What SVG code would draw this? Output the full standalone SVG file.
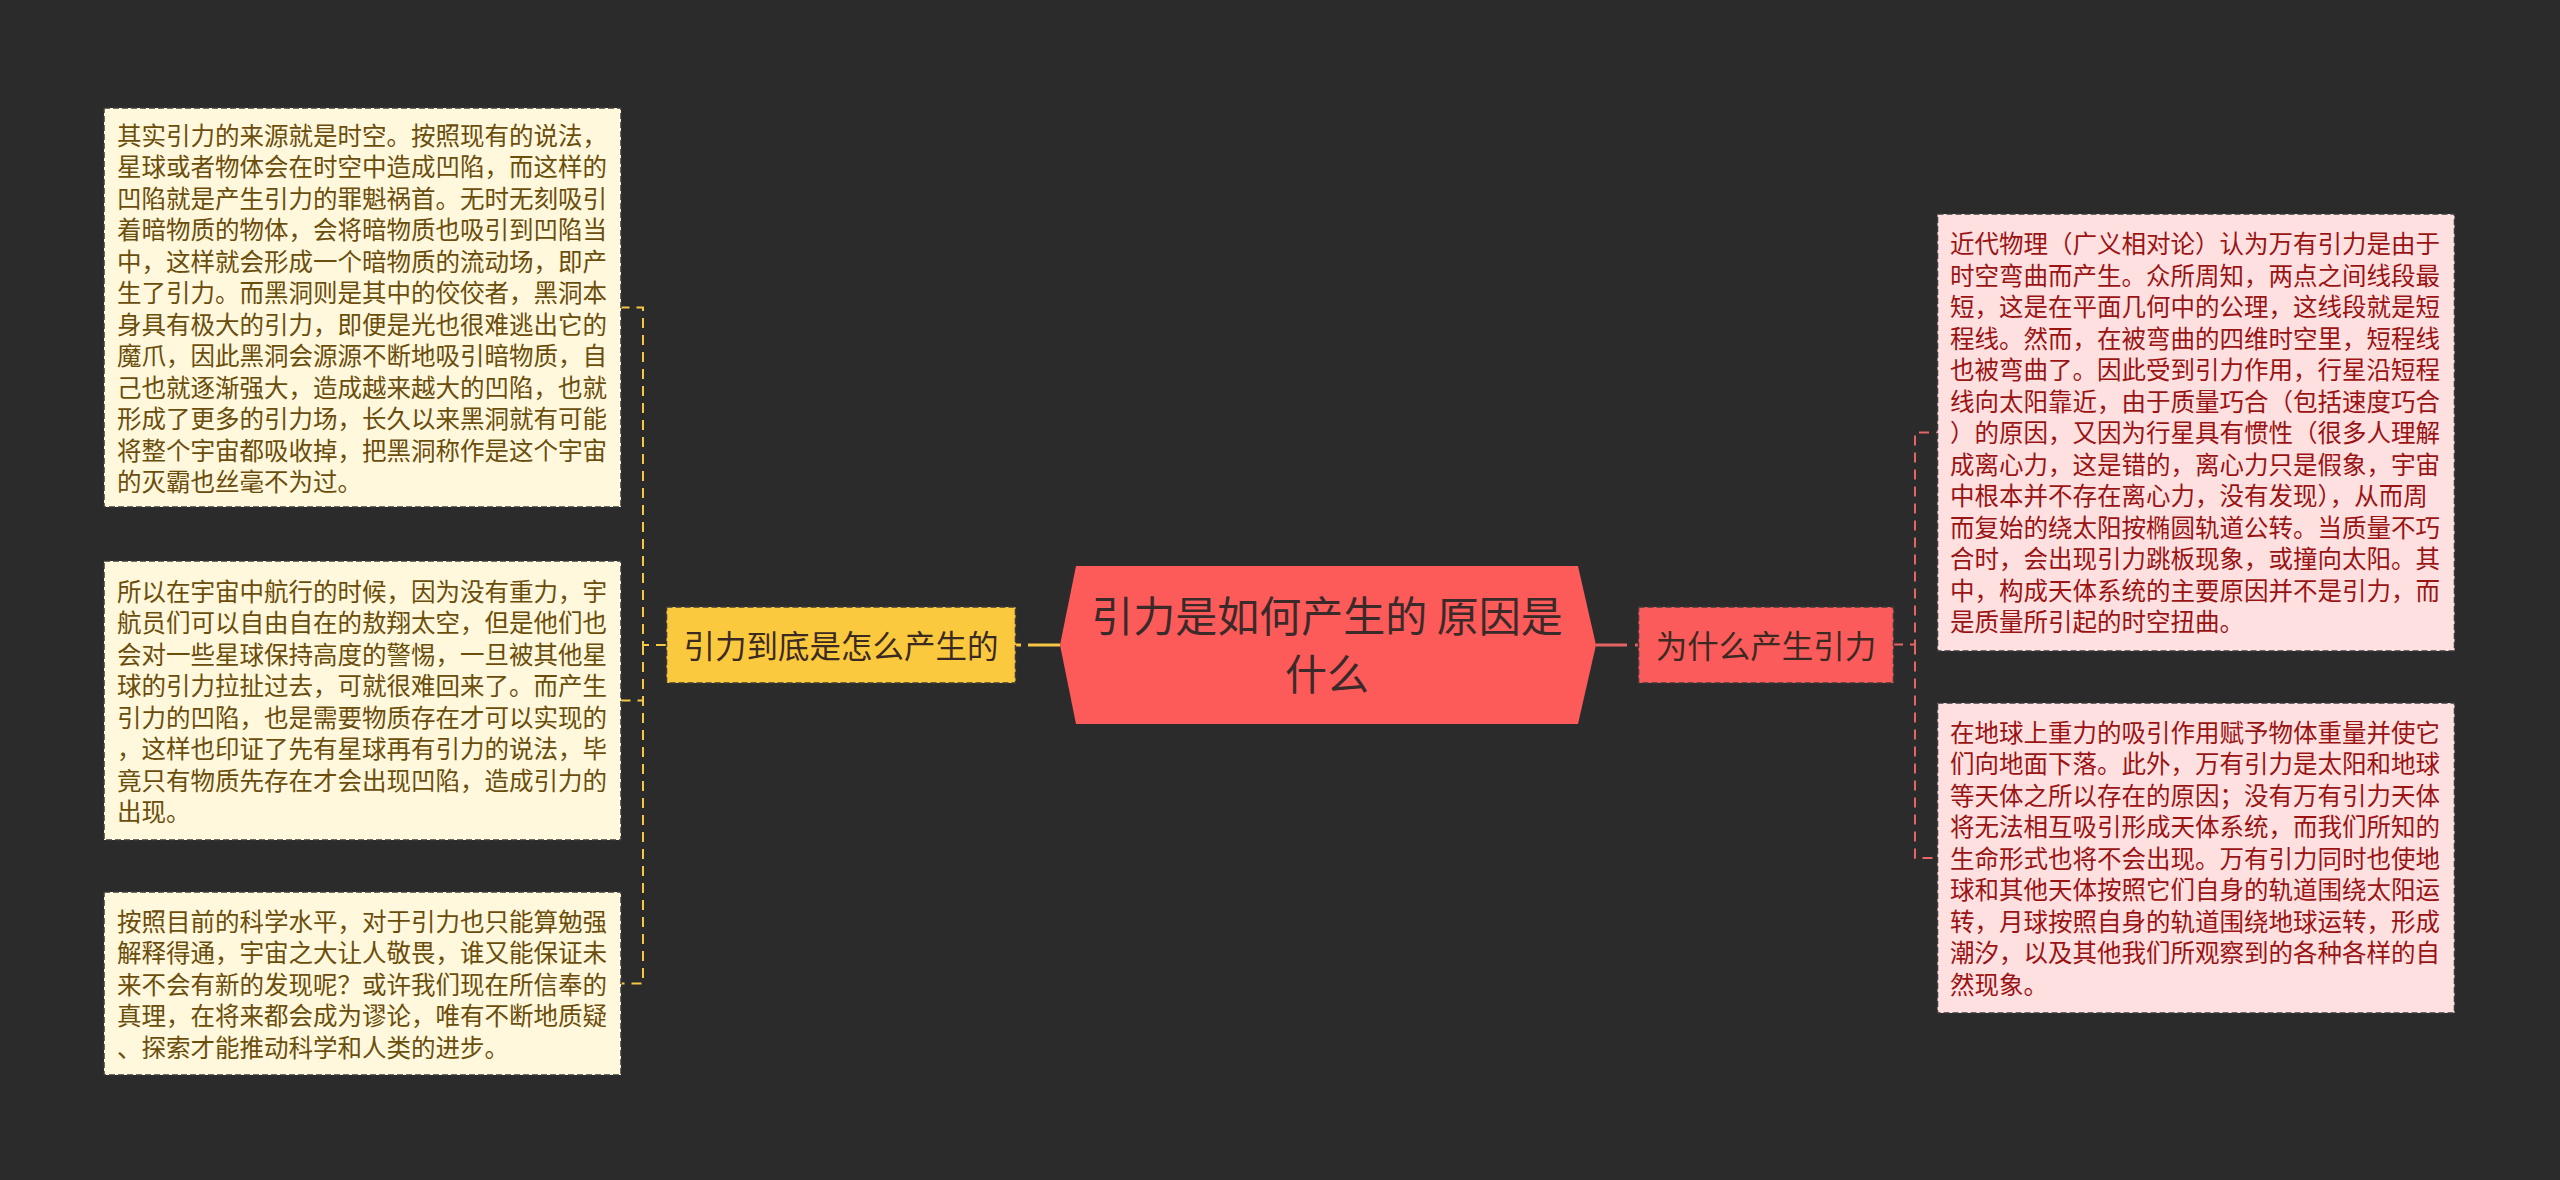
<svg xmlns="http://www.w3.org/2000/svg" width="2560" height="1180" viewBox="0 0 2560 1180">
<style>
.bg{fill:#2b2b2b}
.t{font-family:"Noto Sans CJK SC","Noto Sans",sans-serif}
.lbox{fill:#fff8dc;stroke:#3a3a3a;stroke-width:1.5;stroke-dasharray:6 3}
.rbox{fill:#ffe0e1;stroke:#3a3a3a;stroke-width:1.5;stroke-dasharray:6 3}
.ltxt{font-size:24.5px;fill:#6b4d0c}
.rtxt{font-size:24.5px;fill:#9a1414}
.ynode{fill:#fbc93d;stroke:#3a3a3a;stroke-width:1.5;stroke-dasharray:6 3}
.rnode{fill:#fc5b5b;stroke:#3a3a3a;stroke-width:1.5;stroke-dasharray:6 3}
.ntxt{font-size:31.5px;fill:#3b2a22}
.ctxt{font-size:42px;fill:#3b2a2a}
.ylink{fill:none;stroke:#f6c744;stroke-width:2;stroke-dasharray:10 7}
.rlink{fill:none;stroke:#e46565;stroke-width:2;stroke-dasharray:10 7}
</style>
<rect class="bg" x="0" y="0" width="2560" height="1180"/>

<g id="connectors">
  <path d="M1060 645 H1015" fill="none" stroke="#f6c744" stroke-width="3.2" stroke-dasharray="32 7"/>
  <path d="M1596 645 H1639" fill="none" stroke="#e46565" stroke-width="3.2" stroke-dasharray="31 8"/>
  <path class="ylink" d="M666 645 H643 V307.5 H621"/>
  <path class="ylink" d="M643 645 V700.5 H621"/>
  <path class="ylink" d="M643 645 V983.5 H621"/>
  <path class="rlink" d="M1893 644.5 H1915 V432.5 H1938"/>
  <path class="rlink" d="M1915 644.5 V858 H1938"/>
</g>

<g id="root">
  <polygon points="1060,645 1076,566 1578,566 1596,645 1578,724 1076,724" fill="#fd5a5a"/>
  <text class="t ctxt" text-anchor="middle" xml:space="preserve"><tspan x="1327" y="632">引力是如何产生的 原因是</tspan><tspan x="1327" y="690">什么</tspan></text>
</g>

<g id="node-left">
  <rect class="ynode" x="666.5" y="607" width="349" height="76"/>
  <text class="t ntxt" x="841" y="657.5" text-anchor="middle">引力到底是怎么产生的</text>
</g>

<g id="node-right">
  <rect class="rnode" x="1638.5" y="607" width="255" height="76"/>
  <text class="t ntxt" x="1766" y="657.5" text-anchor="middle">为什么产生引力</text>
</g>

<g id="leaf-l1">
  <rect class="lbox" x="104" y="108" width="517" height="399"/>
  <text class="t ltxt" x="117">
    <tspan x="117" y="144.5">其实引力的来源就是时空。按照现有的说法，</tspan>
    <tspan x="117" dy="31.5">星球或者物体会在时空中造成凹陷，而这样的</tspan>
    <tspan x="117" dy="31.5">凹陷就是产生引力的罪魁祸首。无时无刻吸引</tspan>
    <tspan x="117" dy="31.5">着暗物质的物体，会将暗物质也吸引到凹陷当</tspan>
    <tspan x="117" dy="31.5">中，这样就会形成一个暗物质的流动场，即产</tspan>
    <tspan x="117" dy="31.5">生了引力。而黑洞则是其中的佼佼者，黑洞本</tspan>
    <tspan x="117" dy="31.5">身具有极大的引力，即便是光也很难逃出它的</tspan>
    <tspan x="117" dy="31.5">魔爪，因此黑洞会源源不断地吸引暗物质，自</tspan>
    <tspan x="117" dy="31.5">己也就逐渐强大，造成越来越大的凹陷，也就</tspan>
    <tspan x="117" dy="31.5">形成了更多的引力场，长久以来黑洞就有可能</tspan>
    <tspan x="117" dy="31.5">将整个宇宙都吸收掉，把黑洞称作是这个宇宙</tspan>
    <tspan x="117" dy="31.5">的灭霸也丝毫不为过。</tspan>
  </text>
</g>

<g id="leaf-l2">
  <rect class="lbox" x="104" y="561" width="517" height="279"/>
  <text class="t ltxt">
    <tspan x="117" y="600.5">所以在宇宙中航行的时候，因为没有重力，宇</tspan>
    <tspan x="117" dy="31.5">航员们可以自由自在的敖翔太空，但是他们也</tspan>
    <tspan x="117" dy="31.5">会对一些星球保持高度的警惕，一旦被其他星</tspan>
    <tspan x="117" dy="31.5">球的引力拉扯过去，可就很难回来了。而产生</tspan>
    <tspan x="117" dy="31.5">引力的凹陷，也是需要物质存在才可以实现的</tspan>
    <tspan x="117" dy="31.5">，这样也印证了先有星球再有引力的说法，毕</tspan>
    <tspan x="117" dy="31.5">竟只有物质先存在才会出现凹陷，造成引力的</tspan>
    <tspan x="117" dy="31.5">出现。</tspan>
  </text>
</g>

<g id="leaf-l3">
  <rect class="lbox" x="104" y="892" width="517" height="183"/>
  <text class="t ltxt">
    <tspan x="117" y="930.7">按照目前的科学水平，对于引力也只能算勉强</tspan>
    <tspan x="117" dy="31.5">解释得通，宇宙之大让人敬畏，谁又能保证未</tspan>
    <tspan x="117" dy="31.5">来不会有新的发现呢？或许我们现在所信奉的</tspan>
    <tspan x="117" dy="31.5">真理，在将来都会成为谬论，唯有不断地质疑</tspan>
    <tspan x="117" dy="31.5">、探索才能推动科学和人类的进步。</tspan>
  </text>
</g>

<g id="leaf-r1">
  <rect class="rbox" x="1937.5" y="214" width="517" height="437"/>
  <text class="t rtxt">
    <tspan x="1950" y="253.3">近代物理（广义相对论）认为万有引力是由于</tspan>
    <tspan x="1950" dy="31.5">时空弯曲而产生。众所周知，两点之间线段最</tspan>
    <tspan x="1950" dy="31.5">短，这是在平面几何中的公理，这线段就是短</tspan>
    <tspan x="1950" dy="31.5">程线。然而，在被弯曲的四维时空里，短程线</tspan>
    <tspan x="1950" dy="31.5">也被弯曲了。因此受到引力作用，行星沿短程</tspan>
    <tspan x="1950" dy="31.5">线向太阳靠近，由于质量巧合（包括速度巧合</tspan>
    <tspan x="1950" dy="31.5">）的原因，又因为行星具有惯性（很多人理解</tspan>
    <tspan x="1950" dy="31.5">成离心力，这是错的，离心力只是假象，宇宙</tspan>
    <tspan x="1950" dy="31.5">中根本并不存在离心力，没有发现），从而周</tspan>
    <tspan x="1950" dy="31.5">而复始的绕太阳按椭圆轨道公转。当质量不巧</tspan>
    <tspan x="1950" dy="31.5">合时，会出现引力跳板现象，或撞向太阳。其</tspan>
    <tspan x="1950" dy="31.5">中，构成天体系统的主要原因并不是引力，而</tspan>
    <tspan x="1950" dy="31.5">是质量所引起的时空扭曲。</tspan>
  </text>
</g>

<g id="leaf-r2">
  <rect class="rbox" x="1937.5" y="703" width="517" height="310"/>
  <text class="t rtxt">
    <tspan x="1950" y="741.8">在地球上重力的吸引作用赋予物体重量并使它</tspan>
    <tspan x="1950" dy="31.5">们向地面下落。此外，万有引力是太阳和地球</tspan>
    <tspan x="1950" dy="31.5">等天体之所以存在的原因；没有万有引力天体</tspan>
    <tspan x="1950" dy="31.5">将无法相互吸引形成天体系统，而我们所知的</tspan>
    <tspan x="1950" dy="31.5">生命形式也将不会出现。万有引力同时也使地</tspan>
    <tspan x="1950" dy="31.5">球和其他天体按照它们自身的轨道围绕太阳运</tspan>
    <tspan x="1950" dy="31.5">转，月球按照自身的轨道围绕地球运转，形成</tspan>
    <tspan x="1950" dy="31.5">潮汐，以及其他我们所观察到的各种各样的自</tspan>
    <tspan x="1950" dy="31.5">然现象。</tspan>
  </text>
</g>
</svg>
